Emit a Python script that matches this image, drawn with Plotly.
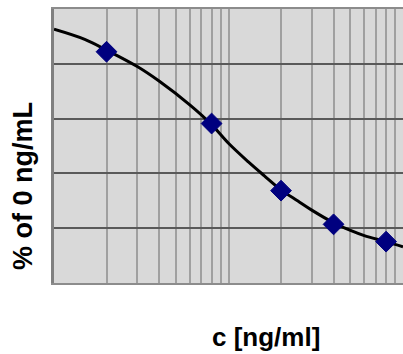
import plotly.graph_objects as go

# Measured standards
conc = [2, 8, 20, 40, 80]
pct = [84.4, 58.2, 33.7, 21.4, 15.1]

# Fitted curve
curve_x = [1, 1.5, 2, 3, 4, 6, 8, 10, 13, 16, 20, 25, 30, 40, 50, 60, 80, 100]
curve_y = [92.6, 88.9, 85.0, 79.0, 73.7, 65.0, 57.8, 51.0, 44.2, 39.2, 34.0,
           29.9, 26.6, 22.0, 19.2, 17.3, 15.1, 13.2]

x_grid = [1, 2, 3, 4, 5, 6, 7, 8, 9, 10, 20, 30, 40, 50, 60, 70, 80, 90, 100]
y_grid = [0, 20, 40, 60, 80, 100]

fig = go.Figure()
fig.add_trace(go.Scatter(x=curve_x, y=curve_y, mode="lines",
                         line=dict(color="black", width=3, shape="spline"),
                         showlegend=False, hoverinfo="skip"))
fig.add_trace(go.Scatter(x=conc, y=pct, mode="markers",
                         marker=dict(symbol="diamond", size=16, color="#00007F",
                                     line=dict(color="#00007F", width=1)),
                         showlegend=False))

fig.update_layout(
    width=403, height=354,
    margin=dict(l=54, r=0, t=9, b=71),
    paper_bgcolor="white",
    plot_bgcolor="#D9D9D9",
    font=dict(family="Liberation Sans, Arial, sans-serif", color="black"),
    xaxis=dict(type="log", range=[0, 2], tickvals=x_grid, showticklabels=False,
               ticks="", showgrid=True, gridcolor="#A0A0A0", gridwidth=1.5,
               showline=True, linecolor="#8C8C8C", linewidth=2, mirror=True,
               zeroline=False, fixedrange=True),
    yaxis=dict(range=[0, 100], tickvals=y_grid, showticklabels=False, ticks="",
               showgrid=True, gridcolor="#5A5A5A", gridwidth=1.5,
               showline=True, linecolor="#808080", linewidth=2.5, mirror=False,
               zeroline=False, fixedrange=True),
    annotations=[
        dict(text="<b>c [ng/ml]</b>", xref="paper", yref="paper",
             x=(266 - 54) / 349, y=-(337 - 283) / 274, xanchor="center", yanchor="middle",
             showarrow=False, font=dict(size=26, color="black")),
        dict(text="<b>% of 0 ng/mL</b>", xref="paper", yref="paper",
             x=-(54 - 23) / 349, y=(283 - 186) / 274, xanchor="center", yanchor="middle",
             textangle=-90, showarrow=False, font=dict(size=27, color="black")),
    ],
)

fig.write_html("out.html", config={"displayModeBar": False},
               post_script="document.body.style.margin='0';")
